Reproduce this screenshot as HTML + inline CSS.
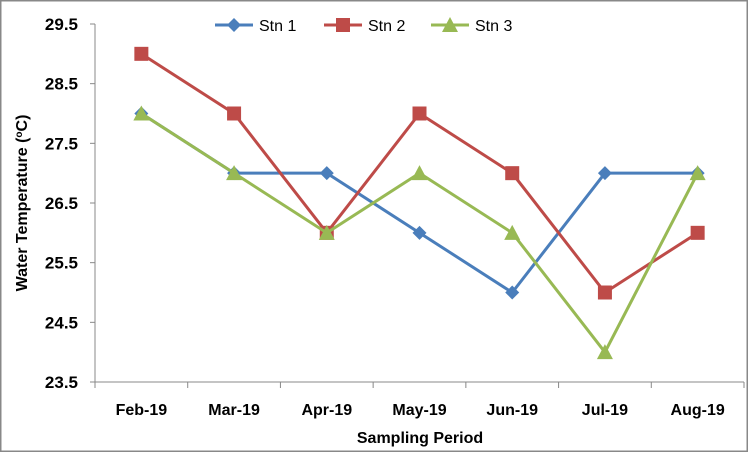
<!DOCTYPE html>
<html><head><meta charset="utf-8"><style>
body{margin:0;background:#fff}
svg{display:block;font-family:"Liberation Sans",Arial,sans-serif;font-weight:bold}
</style></head><body>
<svg width="748" height="452">
<rect x="0.5" y="0.5" width="747" height="451" fill="#fff" stroke="#888" stroke-width="2"/>
<g id="axes"></g><g id="series"></g>
<text x="0" y="0" transform="translate(27,203) rotate(-90)" text-anchor="middle" font-size="16">Water Temperature (<tspan font-size="10" dy="-5">o</tspan><tspan dy="5">C)</tspan></text>
<text x="420" y="443" text-anchor="middle" font-size="16">Sampling Period</text>
<g id="legend"></g>
</svg>
<script>
const categories=["Feb-19","Mar-19","Apr-19","May-19","Jun-19","Jul-19","Aug-19"];
const stn1=[28,27,27,26,25,27,27];
const stn2=[29,28,26,28,27,25,26];
const stn3=[28,27,26,27,26,24,27];
const yTicks=[23.5,24.5,25.5,26.5,27.5,28.5,29.5];
const seriesNames=["Stn 1","Stn 2","Stn 3"];
const NS="http://www.w3.org/2000/svg";
const L=95,R=744,T=24,B=382,yMin=23.5,yMax=29.5;
const bw=(R-L)/categories.length;
const xs=i=>L+bw*(i+0.5);
const ys=v=>B-(v-yMin)/(yMax-yMin)*(B-T);
function mk(t,a,p){const e=document.createElementNS(NS,t);for(const k in a)e.setAttribute(k,a[k]);p.appendChild(e);return e;}
const ax=document.getElementById('axes');
let e=mk('line',{x1:L,y1:T,x2:L,y2:B,stroke:'#888'},ax);


e=mk('line',{x1:L,y1:B,x2:R,y2:B,stroke:'#888'},ax);


yTicks.forEach(v=>{mk('line',{x1:L-5,y1:ys(v),x2:L,y2:ys(v),stroke:'#888'},ax);
 const t=mk('text',{x:L-17,y:ys(v)+6,'text-anchor':'end','font-size':'17'},ax);t.textContent=v.toFixed(1);
 
 });
for(let i=0;i<=categories.length;i++)mk('line',{x1:L+bw*i,y1:B,x2:L+bw*i,y2:B+6,stroke:'#888'},ax);
categories.forEach((c,i)=>{const t=mk('text',{x:xs(i),y:B+33,'text-anchor':'middle','font-size':'16'},ax);t.textContent=c;
 
 });
const colors=["#4a7ebb","#be4b48","#98b954"];
function marker(k,x,y,g){const c=colors[k];
 if(k===0)return mk('path',{d:`M${x-7},${y}L${x},${y-7}L${x+7},${y}L${x},${y+7}Z`,fill:c},g);
 if(k===1)return mk('rect',{x:x-7,y:y-7,width:14,height:14,fill:c},g);
 return mk('path',{d:`M${x-8},${y+7}L${x},${y-8}L${x+8},${y+7}Z`,fill:c},g);}
const sg=document.getElementById('series');
[stn1,stn2,stn3].forEach((d,k)=>{
 const g=mk('g',{},sg);
 
 
 mk('polyline',{points:d.map((v,i)=>xs(i)+','+ys(v)).join(' '),fill:'none',stroke:colors[k],'stroke-width':3},g);
 d.forEach((v,i)=>{const m=marker(k,xs(i),ys(v),g);
  
  });
});
const lg=document.getElementById('legend');
const lx=[215,324,431];
seriesNames.forEach((n,k)=>{const g=mk('g',{},lg);
 
 
 mk('line',{x1:lx[k],y1:25,x2:lx[k]+38,y2:25,stroke:colors[k],'stroke-width':3},g);
 marker(k,lx[k]+19,25,g);
 const t=mk('text',{x:lx[k]+44,y:31,'font-size':'16','font-weight':'normal'},g);t.textContent=n;});
</script>
</body></html>
